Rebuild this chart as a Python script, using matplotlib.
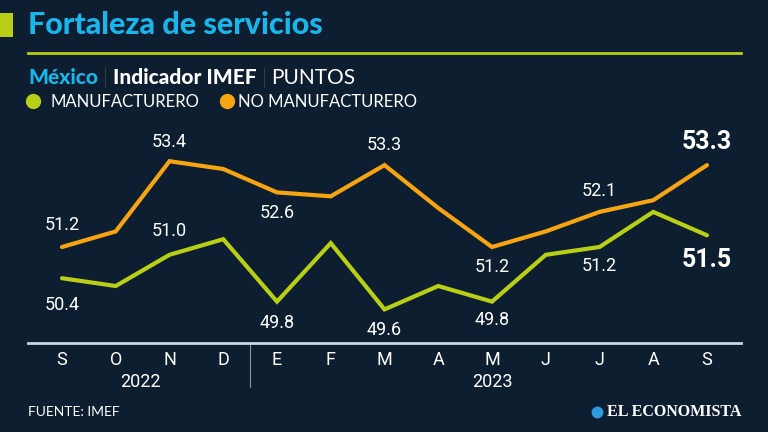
import matplotlib
matplotlib.use("Agg")
import matplotlib.pyplot as plt
from matplotlib.patches import Rectangle
from matplotlib.lines import Line2D

months = ["S", "O", "N", "D", "E", "F", "M", "A", "M", "J", "J", "A", "S"]
years = ["2022", "2023"]
no_manuf = [51.2, 51.6, 53.4, 53.2, 52.6, 52.5, 53.3, 52.2, 51.2, 51.6, 52.1, 52.4, 53.3]
manuf = [50.4, 50.2, 51.0, 51.4, 49.8, 51.3, 49.6, 50.2, 49.8, 51.0, 51.2, 52.1, 51.5]

# labelled points: (index, offset_px, bold)
no_manuf_labels = [(0, 22, False), (2, 19, False), (4, -21, False), (6, 20, False),
                   (8, -20, False), (10, 21, False), (12, 23, True)]
manuf_labels = [(0, -27, False), (2, 24, False), (4, -21, False), (6, -21, False),
                (8, -18, False), (10, -19, False), (12, -25, True)]

BG = "#0e1e31"
ORANGE = "#f6a412"
LIME = "#b8cf16"
CYAN = "#18b6ea"
WHITE = "#ffffff"
AXIS = "#c9d5e2"
NARROW = ["Roboto", "DejaVu Sans"]
HEAD = ["Lato", "DejaVu Sans"]

W, H = 768, 432
fig = plt.figure(figsize=(W / 100, H / 100), dpi=100, facecolor=BG)

def fx(x):
    return x / W

def fy(y):
    return 1 - y / H

# header
fig.patches.append(Rectangle((0, fy(37)), fx(13), 24 / H, transform=fig.transFigure,
                             facecolor=LIME, edgecolor="none"))
fig.text(fx(28), fy(25), "Fortaleza de servicios", color=CYAN, fontsize=22,
         fontweight="black", family=HEAD, va="center", ha="left")
fig.lines.append(Line2D([fx(28), fx(741)], [fy(53), fy(53)], transform=fig.transFigure,
                        color=LIME, lw=2))

fig.canvas.draw()
r = fig.canvas.get_renderer()
x = 28
parts = [("México", CYAN, "black"), ("|", "#9aa6b4", "light"), ("Indicador IMEF", WHITE, "black"),
         ("|", "#9aa6b4", "light"), ("PUNTOS", WHITE, "normal")]
for txt, col, wt in parts:
    t = fig.text(x / W, fy(78), txt, color=col, fontsize=15, fontweight=wt, family=HEAD,
                 va="center", ha="left")
    bb = t.get_window_extent(r)
    x = bb.x1 + 5

# legend
for cx, tx, col, lab in [(33, 50, LIME, "MANUFACTURERO"), (227, 238, ORANGE, "NO MANUFACTURERO")]:
    fig.lines.append(Line2D([fx(cx)], [fy(101)], transform=fig.transFigure, marker="o",
                            markersize=11, color=col, markeredgewidth=0))
    fig.text(fx(tx), fy(102), lab, color=WHITE, fontsize=12, family=HEAD, va="center",
             ha="left")

# axes
x0, x12 = 62, 707
ppu = (x12 - x0) / 12
left_px, right_px = 28, 741
top_px, bot_px = 130, 343
y_ref, v_ref, vpp = 247, 51.2, 39.0
ax = fig.add_axes([fx(left_px), fy(bot_px), (right_px - left_px) / W, (bot_px - top_px) / H])
ax.set_facecolor("none")
ax.set_xlim((left_px - x0) / ppu, 12 + (right_px - x12) / ppu)
ax.set_ylim(v_ref - (bot_px - y_ref) / vpp, v_ref + (y_ref - top_px) / vpp)
for s in ax.spines.values():
    s.set_visible(False)
ax.spines["bottom"].set_visible(True)
ax.spines["bottom"].set_color(AXIS)
ax.spines["bottom"].set_linewidth(2)

xs = list(range(len(months)))
ax.plot(xs, no_manuf, color=ORANGE, lw=3, solid_capstyle="round", solid_joinstyle="miter")
ax.plot(xs, manuf, color=LIME, lw=3, solid_capstyle="round", solid_joinstyle="miter")

for series, labels in [(no_manuf, no_manuf_labels), (manuf, manuf_labels)]:
    for i, off, bold in labels:
        ax.annotate(f"{series[i]:.1f}", (i, series[i]), xytext=(0, off * 0.72),
                    textcoords="offset points", ha="center", va="center", color=WHITE,
                    fontsize=18 if bold else 13, fontweight="bold" if bold else "normal",
                    family=NARROW)

ax.set_yticks([])
ax.set_xticks(xs)
ax.set_xticklabels(months, color=WHITE, fontsize=13, family=NARROW)
ax.tick_params(axis="x", length=0, pad=6)

ytr = ax.get_xaxis_transform()
yr = -39 / (bot_px - top_px)
ax.text(1.45, yr, years[0], transform=ytr, ha="center", va="center",
        color=WHITE, fontsize=13, family=NARROW)
ax.text(8, yr, years[1], transform=ytr, ha="center", va="center",
        color=WHITE, fontsize=13, family=NARROW)
ax.plot([3.5, 3.5], [0, -44 / (bot_px - top_px)], transform=ytr, clip_on=False,
        color="#8795a6", lw=0.8)

# footer
fig.text(fx(28), fy(412), "FUENTE: IMEF", color=WHITE, fontsize=10, family=HEAD,
         va="center", ha="left")
fig.text(fx(741), fy(412), "EL ECONOMISTA", color=WHITE, fontsize=11.5, fontweight="bold",
         family=["Liberation Serif", "DejaVu Serif"], va="center", ha="right")
fig.lines.append(Line2D([fx(597)], [fy(412)], transform=fig.transFigure, marker="o",
                        markersize=8.5, color="#2c9be0", markeredgewidth=0))

fig.savefig("out.png", dpi=100, facecolor=BG)
